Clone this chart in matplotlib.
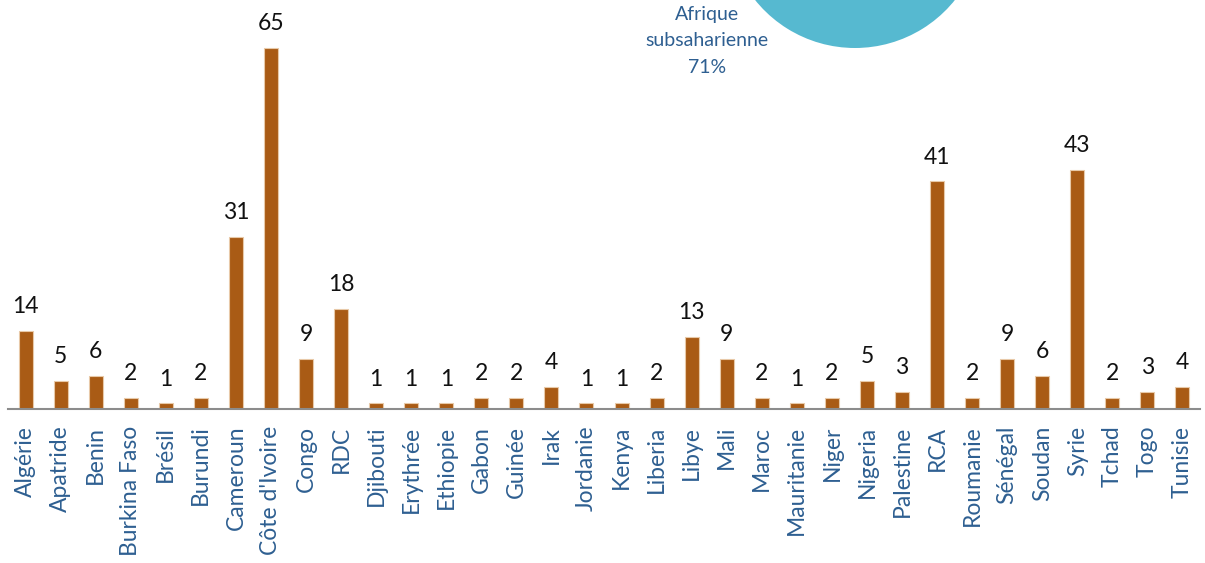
import matplotlib
matplotlib.use("Agg")
import matplotlib.pyplot as plt

countries = ["Algérie", "Apatride", "Benin", "Burkina Faso", "Brésil", "Burundi",
             "Cameroun", "Côte d'Ivoire", "Congo", "RDC", "Djibouti", "Erythrée",
             "Ethiopie", "Gabon", "Guinée", "Irak", "Jordanie", "Kenya", "Liberia",
             "Libye", "Mali", "Maroc", "Mauritanie", "Niger", "Nigeria", "Palestine",
             "RCA", "Roumanie", "Sénégal", "Soudan", "Syrie", "Tchad", "Togo", "Tunisie"]
values = [14, 5, 6, 2, 1, 2, 31, 65, 9, 18, 1, 1, 1, 2, 2, 4, 1, 1, 2, 13, 9, 2, 1,
          2, 5, 3, 41, 2, 9, 6, 43, 2, 3, 4]

pie_labels = ["Afrique\nsubsaharienne\n71%", ""]
pie_values = [71, 29]

BAR = "#A95B15"
TEXT_BLUE = "#2E5F91"
TEAL = "#56B9D0"
FONT = "Lato"

fig = plt.figure(figsize=(12.05, 5.63), dpi=100)
ax = fig.add_axes([8/1205, 154/563, 1192/1205, 388.6/563])

x = list(range(len(countries)))
bars = ax.bar(x, values, width=0.4, color=BAR, edgecolor="#E8C9A8", linewidth=0.8)
for xi, v in zip(x, values):
    ax.annotate(str(v), (xi, v), xytext=(0, 10), textcoords="offset points",
                ha="center", va="bottom", fontsize=16.5, family=FONT, color="#111111")

ax.set_xlim(-0.5, len(countries) - 0.5)
ax.set_ylim(0, 70)
ax.set_xticks(x)
ax.set_xticklabels(countries, rotation=90, fontsize=16.5, family=FONT, color=TEXT_BLUE)
ax.tick_params(axis="x", length=0, pad=12)
ax.set_yticks([])
for s in ["top", "right", "left"]:
    ax.spines[s].set_visible(False)
ax.spines["bottom"].set_color("#8C8C8C")
ax.spines["bottom"].set_linewidth(1.5)

# partially visible pie at the top
pax = fig.add_axes([(855-128)/1205, (643-128)/563, 256/1205, 256/563])
pax.pie(pie_values, colors=[TEAL, "#7F7F7F"], startangle=-90 - 71*3.6/2,
        counterclock=True)
pax.set_aspect("equal")
pax.set_xlim(-1, 1)
pax.set_ylim(-1, 1)
pax.axis("off")

fig.text(707/1205, 1 - 41/563, pie_labels[0], ha="center", va="center",
         fontsize=14, family=FONT, color=TEXT_BLUE, linespacing=1.65)

fig.savefig("out.png", dpi=100)
